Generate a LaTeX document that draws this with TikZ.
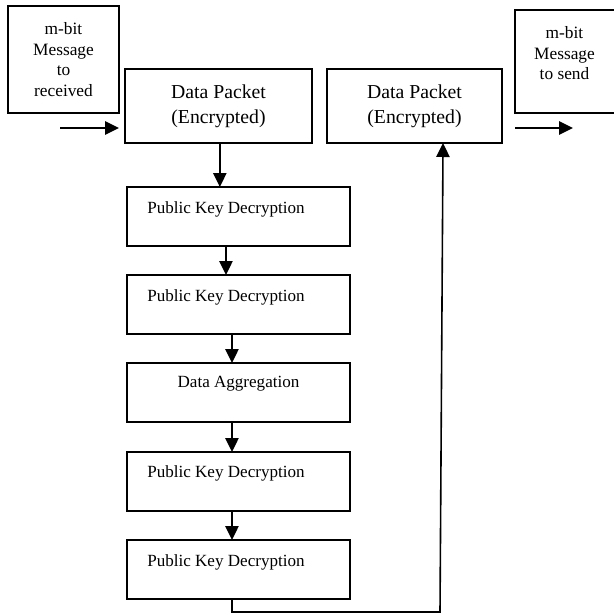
\documentclass[tikz,border=0pt]{standalone}
\usepackage{fontspec}
\setmainfont{Liberation Serif}
\usepackage{tikz}
\usetikzlibrary{arrows.meta}

\tikzset{
  blk/.style={draw, line width=1.3pt, inner sep=0pt, outer sep=0pt},
  msgbox/.style={blk, minimum width=83.25pt, minimum height=80.25pt, align=center,
    font=\fontsize{13}{15.6}\selectfont},
  pktbox/.style={blk, minimum height=55.5pt, align=center,
    font=\fontsize{14.8}{18.8}\selectfont},
  stepbox/.style={blk, minimum width=167.25pt, minimum height=44.25pt},
  steptxt/.style={inner sep=0pt, font=\fontsize{12.8}{15}\selectfont},
  arr/.style={line width=1.2pt, -{Triangle[length=10.5pt,width=10pt]}}
}

\begin{document}
\begin{tikzpicture}[x=0.75pt,y=0.75pt,yscale=-1,xscale=1]
\useasboundingbox (0,0) rectangle (613,613);
% top row
\node (msgin) [msgbox] at (63.5,59.5) {m-bit\\Message\\to\\received};
\node (dp1) [pktbox, minimum width=140.25pt] at (218.5,106) {Data Packet\\(Encrypted)};
\node (dp2) [pktbox, minimum width=131.25pt] at (414.5,106) {Data Packet\\(Encrypted)};
\node (msgout) [blk, minimum width=75.75pt, minimum height=77.25pt] at (565.5,61.5) {};
\node [inner sep=0pt, align=center, font=\fontsize{13}{15.4}\selectfont] at (564.5,53.5) {m-bit\\Message\\to send};
% processing chain
\node (pk1) [stepbox] at (238.5,216.5) {};
\node (pk2) [stepbox] at (238.5,304.5) {};
\node (agg) [stepbox] at (238.5,392.5) {};
\node (pk3) [stepbox] at (238.5,481.5) {};
\node (pk4) [stepbox] at (238.5,569.5) {};
\node [steptxt, anchor=west] at (147,209) {Public Key Decryption};
\node [steptxt, anchor=west] at (147,297) {Public Key Decryption};
\node [steptxt] at (238.5,384) {Data Aggregation};
\node [steptxt, anchor=west] at (147,473) {Public Key Decryption};
\node [steptxt, anchor=west] at (147,562) {Public Key Decryption};
% free arrow ends
\coordinate (inA) at (60,128);
\coordinate (inB) at (119,128);
\coordinate (outA) at (515,128);
\coordinate (outB) at (573,128);
\coordinate (bendA) at (232,612);
\coordinate (bendB) at (440,612);
% connectors
\draw [arr] (inA) -- (inB);
\draw [arr] (outA) -- (outB);
\draw [arr] ([xshift=1pt]dp1.south) -- ([xshift=1pt]dp1.south |- pk1.north);
\draw [arr] ([xshift=-9.4pt]pk1.south) -- ([xshift=-9.4pt]pk2.north);
\draw [arr] ([xshift=-4.9pt]pk2.south) -- ([xshift=-4.9pt]agg.north);
\draw [arr] ([xshift=-4.9pt]agg.south) -- ([xshift=-4.9pt]pk3.north);
\draw [arr] ([xshift=-4.9pt]pk3.south) -- ([xshift=-4.9pt]pk4.north);
\draw [arr] ([xshift=-4.9pt]pk4.south) -- (bendA) -- (bendB) -- ([xshift=21.4pt]dp2.south);
\end{tikzpicture}
\end{document}
